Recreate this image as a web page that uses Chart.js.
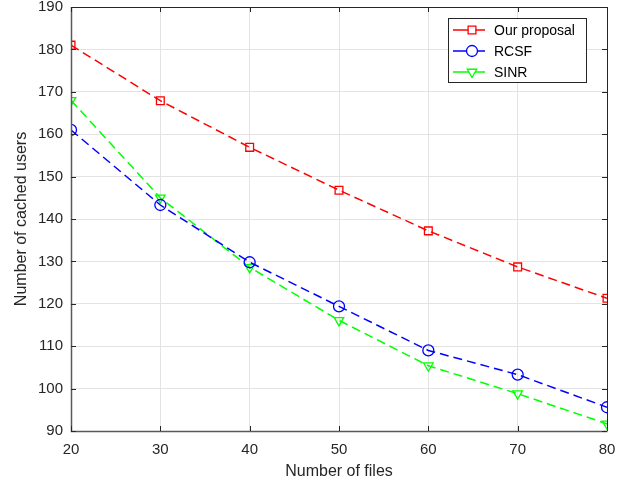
<!DOCTYPE html>
<html>
<head>
<meta charset="utf-8">
<script src="https://cdn.jsdelivr.net/npm/chart.js@4"></script>
<style>
    html, body { margin: 0; padding: 0; background: #ffffff; }
    #wrap { width: 629px; height: 489px; }
</style>
</head>
<body>
<div id="wrap"><canvas id="chart" width="629" height="489"></canvas></div>
<script>
// data
const files = [20, 30, 40, 50, 60, 70, 80];
const proposal = [181, 167.9, 156.9, 146.8, 137.2, 128.7, 121.3];
const rcsf = [161, 143.3, 129.8, 119.4, 109, 103.3, 95.6];
const sinr = [168, 145, 128.6, 116.1, 105.4, 98.8, 91.7];
const xTicks = [20, 30, 40, 50, 60, 70, 80];
const yTicks = [90, 100, 110, 120, 130, 140, 150, 160, 170, 180, 190];

const FONT = "'Liberation Sans', Arial, sans-serif";

function toPoints(values) {
    return files.map((f, i) => ({ x: f, y: values[i] }));
}

function series(label, values, color, style, rotation) {
    return {
        label: label,
        data: toPoints(values),
        borderColor: color,
        backgroundColor: "rgba(0,0,0,0)",
        borderWidth: 1.5,
        borderDash: [9, 5],
        pointStyle: style,
        pointRotation: rotation,
        pointRadius: 5.5,
        pointBorderWidth: 1.3,
        pointBorderColor: color,
        pointBackgroundColor: "rgba(0,0,0,0)",
        tension: 0
    };
}

// box, inward ticks and legend in the matlab style
const matlabBox = {
    id: "matlabBox",
    afterDraw(chart) {
        const ctx = chart.ctx;
        const a = chart.chartArea;
        const xs = chart.scales.x;
        const ys = chart.scales.y;
        ctx.save();
        ctx.lineWidth = 1;
        // top and right edges darker, left and bottom grey like the reference
        ctx.strokeStyle = "#262626";
        ctx.beginPath();
        ctx.moveTo(a.left, a.top + 0.5); ctx.lineTo(a.right + 0.5, a.top + 0.5);
        ctx.lineTo(a.right + 0.5, a.bottom);
        ctx.stroke();
        ctx.strokeStyle = "#5a5a5a";
        ctx.lineWidth = 1.5;
        ctx.beginPath();
        ctx.moveTo(a.left + 0.5, a.top); ctx.lineTo(a.left + 0.5, a.bottom + 0.5);
        ctx.lineTo(a.right + 0.5, a.bottom + 0.5);
        ctx.stroke();

        ctx.strokeStyle = "#262626";
        ctx.lineWidth = 1;
        xTicks.forEach(v => {
            const px = Math.round(xs.getPixelForValue(v)) + 0.5;
            ctx.beginPath();
            ctx.moveTo(px, a.bottom); ctx.lineTo(px, a.bottom - 5);
            ctx.moveTo(px, a.top); ctx.lineTo(px, a.top + 5);
            ctx.stroke();
        });
        yTicks.forEach(v => {
            const py = Math.round(ys.getPixelForValue(v)) + 0.5;
            ctx.beginPath();
            ctx.moveTo(a.left, py); ctx.lineTo(a.left + 5, py);
            ctx.moveTo(a.right, py); ctx.lineTo(a.right - 5, py);
            ctx.stroke();
        });

        // legend
        const bx = 448, by = 18, bw = 138, bh = 64;
        ctx.fillStyle = "#ffffff";
        ctx.fillRect(bx, by, bw, bh);
        ctx.strokeStyle = "#262626";
        ctx.strokeRect(bx + 0.5, by + 0.5, bw, bh);
        ctx.font = "14px " + FONT;
        ctx.textBaseline = "middle";
        chart.data.datasets.forEach((ds, i) => {
            const ry = by + 12 + i * 21;
            ctx.strokeStyle = ds.borderColor;
            ctx.lineWidth = 1.5;
            ctx.setLineDash([]);
            ctx.beginPath();
            ctx.moveTo(bx + 5, ry); ctx.lineTo(bx + 37, ry);
            ctx.stroke();
            ctx.lineWidth = 1.3;
            ctx.fillStyle = "#ffffff";
            Chart.helpers.drawPoint(ctx, {
                pointStyle: ds.pointStyle,
                rotation: ds.pointRotation,
                radius: 5.5,
                borderWidth: 1.3
            }, bx + 24, ry);
            ctx.fillStyle = "#000000";
            ctx.fillText(ds.label, bx + 46, ry + 1);
        });
        ctx.restore();
    }
};

new Chart(document.getElementById("chart"), {
    type: "line",
    data: {
        datasets: [
            series("Our proposal", proposal, "#ff0000", "rect", 0),
            series("RCSF", rcsf, "#0000ff", "circle", 0),
            series("SINR", sinr, "#00ff00", "triangle", 180)
        ]
    },
    options: {
        responsive: false,
        animation: false,
        layout: {
            padding: { top: 7, right: 22, left: 0, bottom: 0 }
        },
        plugins: {
            legend: { display: false },
            tooltip: { enabled: false }
        },
        scales: {
            x: {
                type: "linear",
                min: 20,
                max: 80,
                afterBuildTicks: s => { s.ticks = xTicks.map(v => ({ value: v })); },
                afterFit: s => { s.height = 58; s.paddingLeft = 0; s.paddingRight = 0; },
                grid: { color: "#e3e3e3", drawTicks: false },
                border: { display: false },
                ticks: {
                    color: "#262626",
                    padding: 10,
                    font: { family: FONT, size: 15 }
                },
                title: {
                    display: true,
                    text: "Number of files",
                    color: "#262626",
                    padding: { top: 0, bottom: 8 },
                    font: { family: FONT, size: 16 }
                }
            },
            y: {
                min: 90,
                max: 190,
                afterBuildTicks: s => { s.ticks = yTicks.map(v => ({ value: v })); },
                afterFit: s => { s.width = 71; s.paddingTop = 0; s.paddingBottom = 0; },
                grid: { color: "#e3e3e3", drawTicks: false },
                border: { display: false },
                ticks: {
                    color: "#262626",
                    padding: 8,
                    font: { family: FONT, size: 15 }
                },
                title: {
                    display: true,
                    text: "Number of cached users",
                    color: "#262626",
                    padding: { top: 12, bottom: 0 },
                    font: { family: FONT, size: 16 }
                }
            }
        }
    },
    plugins: [matlabBox]
});
</script>
</body>
</html>
